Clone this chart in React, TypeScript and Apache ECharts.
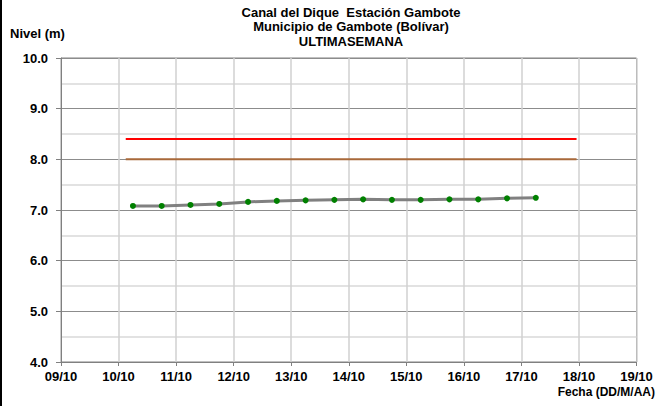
import React, { useEffect, useRef } from "react";
import * as echarts from "echarts";

const titleLines = ["Canal del Dique  Estación Gambote", "Municipio de Gambote (Bolívar)", "ULTIMASEMANA"];
const yAxisName = "Nivel (m)";
const xAxisName = "Fecha (DD/M/AA)";
const tickLabels = ["09/10", "10/10", "11/10", "12/10", "13/10", "14/10", "15/10", "16/10", "17/10", "18/10", "19/10"];

const obsDates = [
  "10/10 06:00", "10/10 18:00", "11/10 06:00", "11/10 18:00", "12/10 06:00",
  "12/10 18:00", "13/10 06:00", "13/10 18:00", "14/10 06:00", "14/10 18:00",
  "15/10 06:00", "15/10 18:00", "16/10 06:00", "16/10 18:00", "17/10 06:00",
];
const obsLevels = [7.08, 7.08, 7.1, 7.12, 7.16, 7.18, 7.19, 7.2, 7.21, 7.2, 7.2, 7.21, 7.21, 7.23, 7.24];

const alertDates = ["10/10 03:00", "17/10 23:00"];
const redLevel = [8.4, 8.4];
const orangeLevel = [8.0, 8.0];

const baseDay = 9;
const toDay = (s: string) => {
  const [d, t] = s.split(" ");
  const dd = parseInt(d.split("/")[0], 10);
  const [hh, mm] = t.split(":").map((v) => parseInt(v, 10));
  return dd - baseDay + (hh + mm / 60) / 24;
};

const FONT = "Liberation Sans, Arial, sans-serif";

export default function App() {
  const ref = useRef<HTMLDivElement>(null);
  useEffect(() => {
    if (!ref.current) return;
    const chart = echarts.init(ref.current, undefined, { renderer: "svg" });
    chart.setOption({
      animation: false,
      backgroundColor: "#ffffff",
      grid: {
        left: 61,
        right: 22.5,
        top: 58,
        bottom: 44,
        show: true,
        borderColor: "#808080",
        borderWidth: 1,
      },
      graphic: [
        { type: "rect", left: 0, top: 0, shape: { width: 2, height: 406 }, style: { fill: "#000" } },
        ...titleLines.map((t, i) => ({
          type: "text",
          x: 351,
          y: 12 + i * 14.5,
          style: {
            text: t,
            fill: "#000",
            font: `bold 13px ${FONT}`,
            textAlign: "center",
            textVerticalAlign: "middle",
          },
        })),
        {
          type: "text",
          x: 10,
          y: 33,
          style: { text: yAxisName, fill: "#000", font: `bold 13px ${FONT}`, textAlign: "left", textVerticalAlign: "middle" },
        },
        {
          type: "text",
          x: 655,
          y: 392,
          style: { text: xAxisName, fill: "#000", font: `bold 12px ${FONT}`, textAlign: "right", textVerticalAlign: "middle" },
        },
      ],
      xAxis: {
        type: "value",
        min: 0,
        max: 10,
        interval: 1,
        axisLine: { show: true, lineStyle: { color: "#808080", width: 1 } },
        axisTick: { show: true, length: 4, lineStyle: { color: "#808080" } },
        axisLabel: {
          margin: 8,
          color: "#000",
          fontFamily: FONT,
          fontWeight: "bold",
          fontSize: 13,
          formatter: (v: number) => tickLabels[Math.round(v)] ?? "",
        },
        splitLine: { show: true, lineStyle: { color: "#d0d0d0", width: 1.5 } },
      },
      yAxis: {
        type: "value",
        min: 4,
        max: 10,
        interval: 1,
        axisLine: { show: true, lineStyle: { color: "#808080", width: 1 } },
        axisTick: { show: true, length: 5, lineStyle: { color: "#808080" } },
        minorTick: { show: false, splitNumber: 2 },
        axisLabel: {
          margin: 13,
          color: "#000",
          fontFamily: FONT,
          fontWeight: "bold",
          fontSize: 13,
          formatter: (v: number) => v.toFixed(1),
        },
        splitLine: { show: true, lineStyle: { color: "#8c8c8c", width: 1 } },
        minorSplitLine: { show: true, lineStyle: { color: "#d9d9d9", width: 1.5 } },
      },
      series: [
        {
          type: "line",
          data: alertDates.map((d, i) => [toDay(d), redLevel[i]]),
          symbol: "none",
          lineStyle: { color: "#ff0000", width: 2 },
          z: 3,
        },
        {
          type: "line",
          data: alertDates.map((d, i) => [toDay(d), orangeLevel[i]]),
          symbol: "none",
          lineStyle: { color: "#a8693a", width: 2 },
          z: 3,
        },
        {
          type: "line",
          data: obsDates.map((d, i) => [toDay(d), obsLevels[i]]),
          symbol: "circle",
          symbolSize: 6,
          itemStyle: { color: "#008000" },
          lineStyle: { color: "#808080", width: 3 },
          z: 4,
        },
      ],
    });
    return () => chart.dispose();
  }, []);
  return (
    <div
      ref={ref}
      style={{ position: "fixed", left: 0, top: 0, width: 659, height: 406, background: "#fff" }}
    />
  );
}
